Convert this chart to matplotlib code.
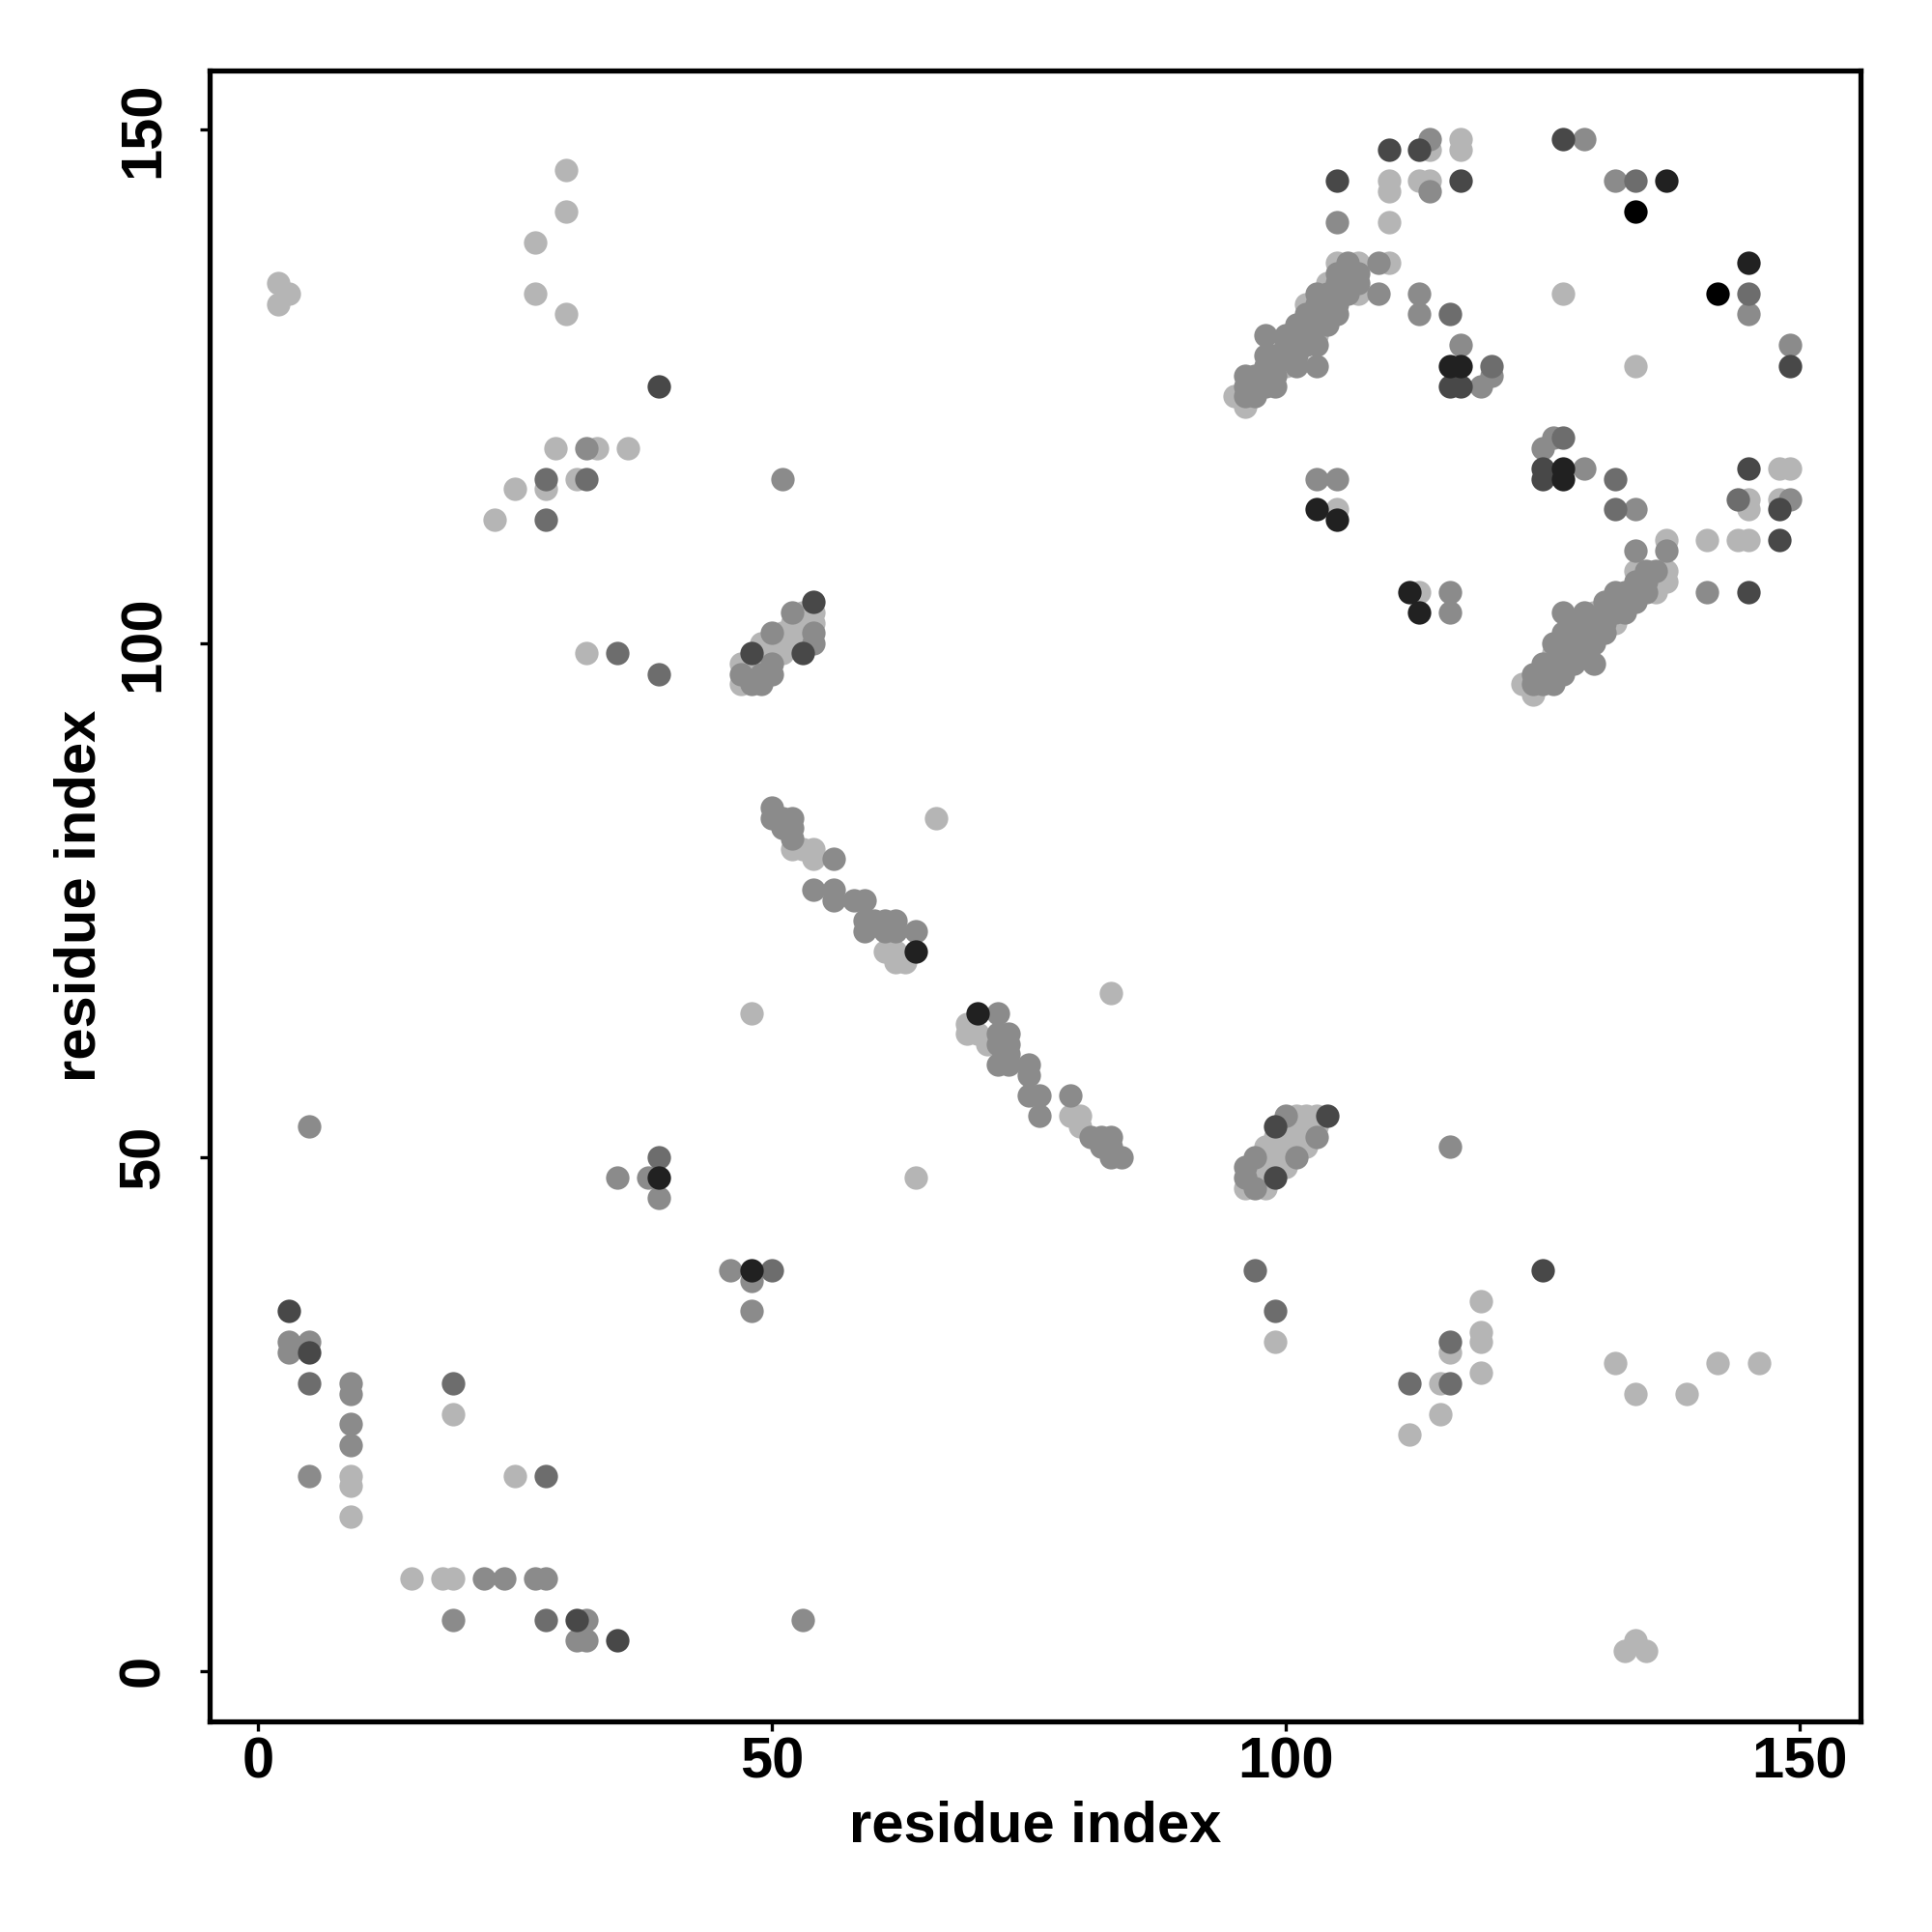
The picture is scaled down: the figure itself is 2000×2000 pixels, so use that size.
import matplotlib
matplotlib.use("Agg")
import matplotlib.pyplot as plt

# contact pairs (residue i, residue j) grouped by contact strength level
pairs_light = [(2,135),(3,134),(2,133),(30,146),(30,142),(27,139),(27,134),(30,132),(29,119),(33,119),(36,119),
    (31,116),(28,115),(25,115),(23,112),(32,99),
    (19,25),(9,19),(9,18),(9,15),(25,19),(15,9),(18,9),(19,9),
    (48,64),(66,83),(83,66),(64,48),
    (53,103),(54,103),(52,102),(53,102),(54,102),(51,101),(52,101),(53,101),(49,100),(50,100),(51,100),(52,100),
    (49,99),(50,99),(51,99),(47,98),(48,98),(49,98),(48,97),(47,96),
    (52,80),(53,80),(54,80),(54,79),(61,70),(62,70),(62,69),(63,69),(69,63),(70,62),(69,62),(71,61),(79,54),(80,54),(80,53),
    (101,54),(102,54),(103,54),(100,53),(101,53),(102,53),(103,53),(99,52),(100,52),(101,52),(102,52),(98,51),(99,51),
    (100,51),(101,51),(102,51),(98,50),(99,50),(100,50),(97,49),(98,49),(99,49),(100,49),(97,48),(98,48),(96,47),(98,47),
    (114,148),(117,149),(117,148),(110,145),(110,144),(113,145),(114,145),(110,141),(105,137),(107,137),(110,137),
    (127,134),(134,127),(96,123),(95,124),(100,127),(103,130),(102,133),(107,134),(104,135),
    (105,113),(113,105),(137,110),(141,110),(144,110),(145,110),(148,117),(149,117),(145,114),(145,113),(148,114),
    (136,105),(137,107),(134,107),(136,106),(137,106),(132,102),(130,103),(126,99),(129,100),(123,96),(124,95),
    (99,32),(119,36),(119,33),(119,32),(116,31),(115,28),(119,29),(112,23),(115,25),(132,30),(134,27),(139,27),
    (142,30),(146,30),(133,2),(134,3),(135,2)]

pairs_medium = [(32,119),(51,116),
    (3,32),(3,31),(5,32),(9,28),(9,27),(9,24),(9,22),(5,19),(22,9),(24,9),(27,9),(28,9),(19,5),(32,5),(31,3),(32,3),(53,5),
    (46,39),(48,38),(48,35),(5,53),(35,48),(38,48),(39,46),
    (52,103),(50,101),(54,101),(54,100),(50,98),(47,97),(49,97),(50,97),(48,96),(49,96),
    (50,84),(50,83),(51,83),(52,83),(51,82),(52,82),(52,81),(56,79),(54,76),(56,76),(56,75),(58,75),(59,75),
    (59,73),(60,73),(61,73),(62,73),(59,72),(61,72),(62,72),(64,72),(72,64),(72,62),(73,62),(72,61),(73,61),(73,60),
    (72,59),(73,59),(75,59),(75,58),(75,56),(76,56),(76,54),(79,56),(81,52),(82,52),(83,52),(82,51),(83,51),(83,50),(84,50),
    (100,54),(103,52),(97,50),(101,50),(96,49),(96,48),(97,47),
    (114,149),(114,144),(105,141),(106,137),(109,137),(109,134),(113,134),(113,132),(117,129),(120,126),(119,125),(103,127),(98,130),
    (96,124),(97,124),(96,125),(97,125),(98,125),(99,125),(96,126),(97,126),(98,126),(99,126),(98,127),(99,127),(101,127),
    (98,128),(99,128),(100,128),(101,128),(100,129),(101,129),(102,129),(103,129),(100,130),(101,130),(102,130),
    (101,131),(102,131),(103,131),(104,131),(102,132),(103,132),(104,132),(105,132),(103,133),(104,133),(105,133),
    (103,134),(104,134),(105,134),(106,134),(105,135),(106,135),(107,135),(105,136),(106,136),(107,136),
    (129,149),(132,145),(145,132),(149,129),
    (103,116),(105,116),(116,105),(116,103),(125,119),(126,120),(129,117),(134,113),(134,109),(137,109),(149,114),
    (141,105),(127,103),(130,98),
    (124,96),(125,96),(126,96),(124,97),(125,97),(126,97),(127,97),(125,98),(126,98),(127,98),(128,98),(127,99),(128,99),
    (129,99),(126,100),(127,100),(128,100),(130,100),(127,101),(128,101),(129,101),(130,101),(131,101),(128,102),(129,102),
    (130,102),(131,102),(129,103),(131,103),(132,103),(133,103),(131,104),(132,104),(133,104),(134,104),(132,105),
    (133,105),(134,105),(135,105),(134,106),(135,106),(135,107),(136,107),
    (116,51)]

pairs_dark = [(28,116),(32,116),(28,112),(35,99),(39,97),(5,28),(19,28),(28,19),(28,5),(50,39),(39,50),
    (116,132),(120,127),(127,120),(132,116),(132,113),(144,114),(134,145),(145,134),
    (97,39),(99,35),(112,28),(116,32),(116,28)]

pairs_darker = [(39,125),(3,35),(5,31),(31,5),(35,3),(48,99),(53,99),(54,104),(99,53),(99,48),(104,54),
    (110,148),(113,148),(105,145),(117,145),(116,125),(117,125),(127,149),(125,117),(125,116),(145,117),
    (148,113),(148,110),(145,105),(149,127),(125,39)]

pairs_very_dark = [(48,39),(39,48),(64,70),(70,64),(116,127),(117,127),(103,113),(105,112),(112,105),(113,103),
    (127,117),(127,116),(137,145),(145,137)]

pairs_black = [(134,142),(142,134)]

level_scores = [0.0, 0.23, 0.40, 0.60, 0.82, 1.0]
x_ticks = [0, 50, 100, 150]
y_ticks = [0, 50, 100, 150]
x_label = "residue index"
y_label = "residue index"

groups = [pairs_light, pairs_medium, pairs_dark, pairs_darker, pairs_very_dark, pairs_black]

fig = plt.figure(figsize=(20, 20), dpi=100)
ax = fig.add_axes([0.1084, 0.109, 0.8546, 0.8547])

def grey(score):
    g = 0.71 * (1 - score)
    return (g, g, g)

for pairs, sc in zip(groups, level_scores):
    xs = [p[0] for p in pairs]
    ys = [p[1] for p in pairs]
    ax.scatter(xs, ys, s=305, color=grey(sc), linewidths=0, zorder=2)

ax.set_xlim(-4.7, 155.9)
ax.set_ylim(-4.9, 155.75)
ax.set_xticks(x_ticks)
ax.set_yticks(y_ticks)
font = dict(family="Liberation Sans", weight="bold", size=43)
ax.set_xticklabels([str(t) for t in x_ticks], **font)
ax.set_yticklabels([str(t) for t in y_ticks], rotation=90, va="center", **font)
ax.tick_params(axis="both", direction="out", length=7, width=2.4, color="black")
ax.tick_params(axis="x", pad=4)
ax.tick_params(axis="y", pad=22)
for sp in ax.spines.values():
    sp.set_linewidth(3.8)
ax.set_xlabel(x_label, labelpad=8, **font)
ax.set_ylabel(y_label, labelpad=8, **font)

fig.savefig("out.png", dpi=100, facecolor="white")
